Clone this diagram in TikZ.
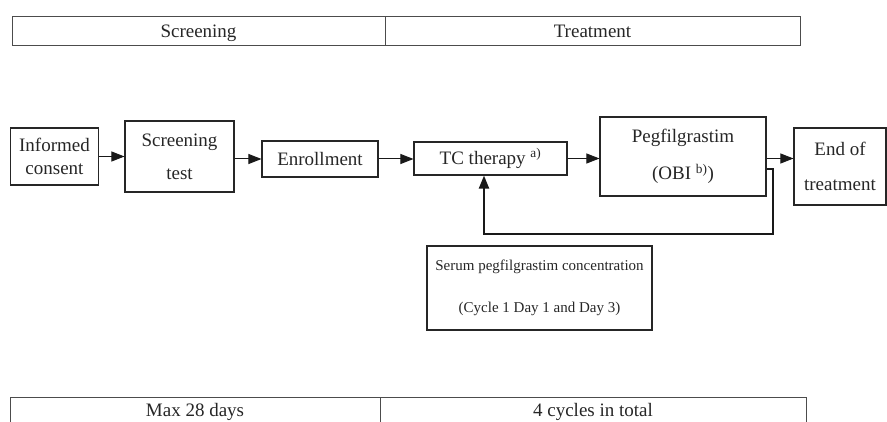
\documentclass[tikz,border=0pt]{standalone}
\usepackage{fontspec}
\setmainfont{Liberation Serif}
\usetikzlibrary{arrows.meta}

\begin{document}
\begin{tikzpicture}[x=1pt,y=-1pt,
  every node/.style={inner sep=0pt,text=black!85},
  stepbox/.style={draw=black!85,line width=1.1pt,align=center,font=\fontsize{19}{23}\selectfont},
  phasecell/.style={draw=black!70,line width=1pt,font=\fontsize{19}{23}\selectfont,text height=12pt,text depth=0pt},
  flow/.style={draw=black!90,line width=1pt,-{Triangle[length=13pt,width=10pt]}},
  loopline/.style={flow,line width=2pt}]
\useasboundingbox (0,0) rectangle (887,422);
% phases
\node[phasecell,minimum width=373,minimum height=29] (scrph) at (198.5,31.5) {Screening};
\node[phasecell,minimum width=415,minimum height=29] (trtph) at (592.5,31.5) {Treatment};
% steps
\node[stepbox,minimum width=88,minimum height=57] (consent) at (54.5,156.5) {Informed\\consent};
\node[stepbox,minimum width=109,minimum height=71] (scrtest) at (179.5,156.5) {Screening\\[10pt]test};
\node[stepbox,minimum width=116,minimum height=36] (enroll) at (320,159) {Enrollment};
\node[stepbox,minimum width=153,minimum height=33] (tc) at (490.5,158.5) {TC therapy \textsuperscript{a)}};
\node[stepbox,minimum width=166,minimum height=79] (peg) at (683,156.5) {Pegfilgrastim\\[14pt](OBI \textsuperscript{b)})};
\node[stepbox,minimum width=92,minimum height=77] (eot) at (840,166.5) {End of\\[12pt]treatment};
\node[stepbox,minimum width=225,minimum height=84,font=\fontsize{15}{18}\selectfont] (serum) at (539.5,288) {Serum pegfilgrastim concentration\\[24pt](Cycle 1 Day 1 and Day 3)};
% arrows
\draw[flow] (consent.east) -- (scrtest.west);
\draw[flow] (scrtest.east |- enroll.west) -- (enroll.west);
\draw[flow] (enroll.east) -- (enroll.east -| tc.west);
\draw[flow] (tc.east) -- (tc.east -| peg.west);
\draw[flow] (peg.east |- tc.east) -- (eot.west |- tc.east);
\coordinate (fbA) at (773,169);
\coordinate (fbB) at (484,234);
\draw[loopline] (peg.east |- fbA) -- (fbA) |- (fbB) -- (fbB |- tc.south);
% durations
\draw[draw=black!70,line width=1pt] (10,430) |- (806,397) -- (806,430);
\draw[draw=black!70,line width=1pt] (380,397) -- (380,430);
\node[font=\fontsize{19}{23}\selectfont,text height=12pt,text depth=0pt] (maxd) at (195,410) {Max 28 days};
\node[font=\fontsize{19}{23}\selectfont,text height=12pt,text depth=0pt] (cycles) at (593,410) {4 cycles in total};
\end{tikzpicture}
\end{document}
